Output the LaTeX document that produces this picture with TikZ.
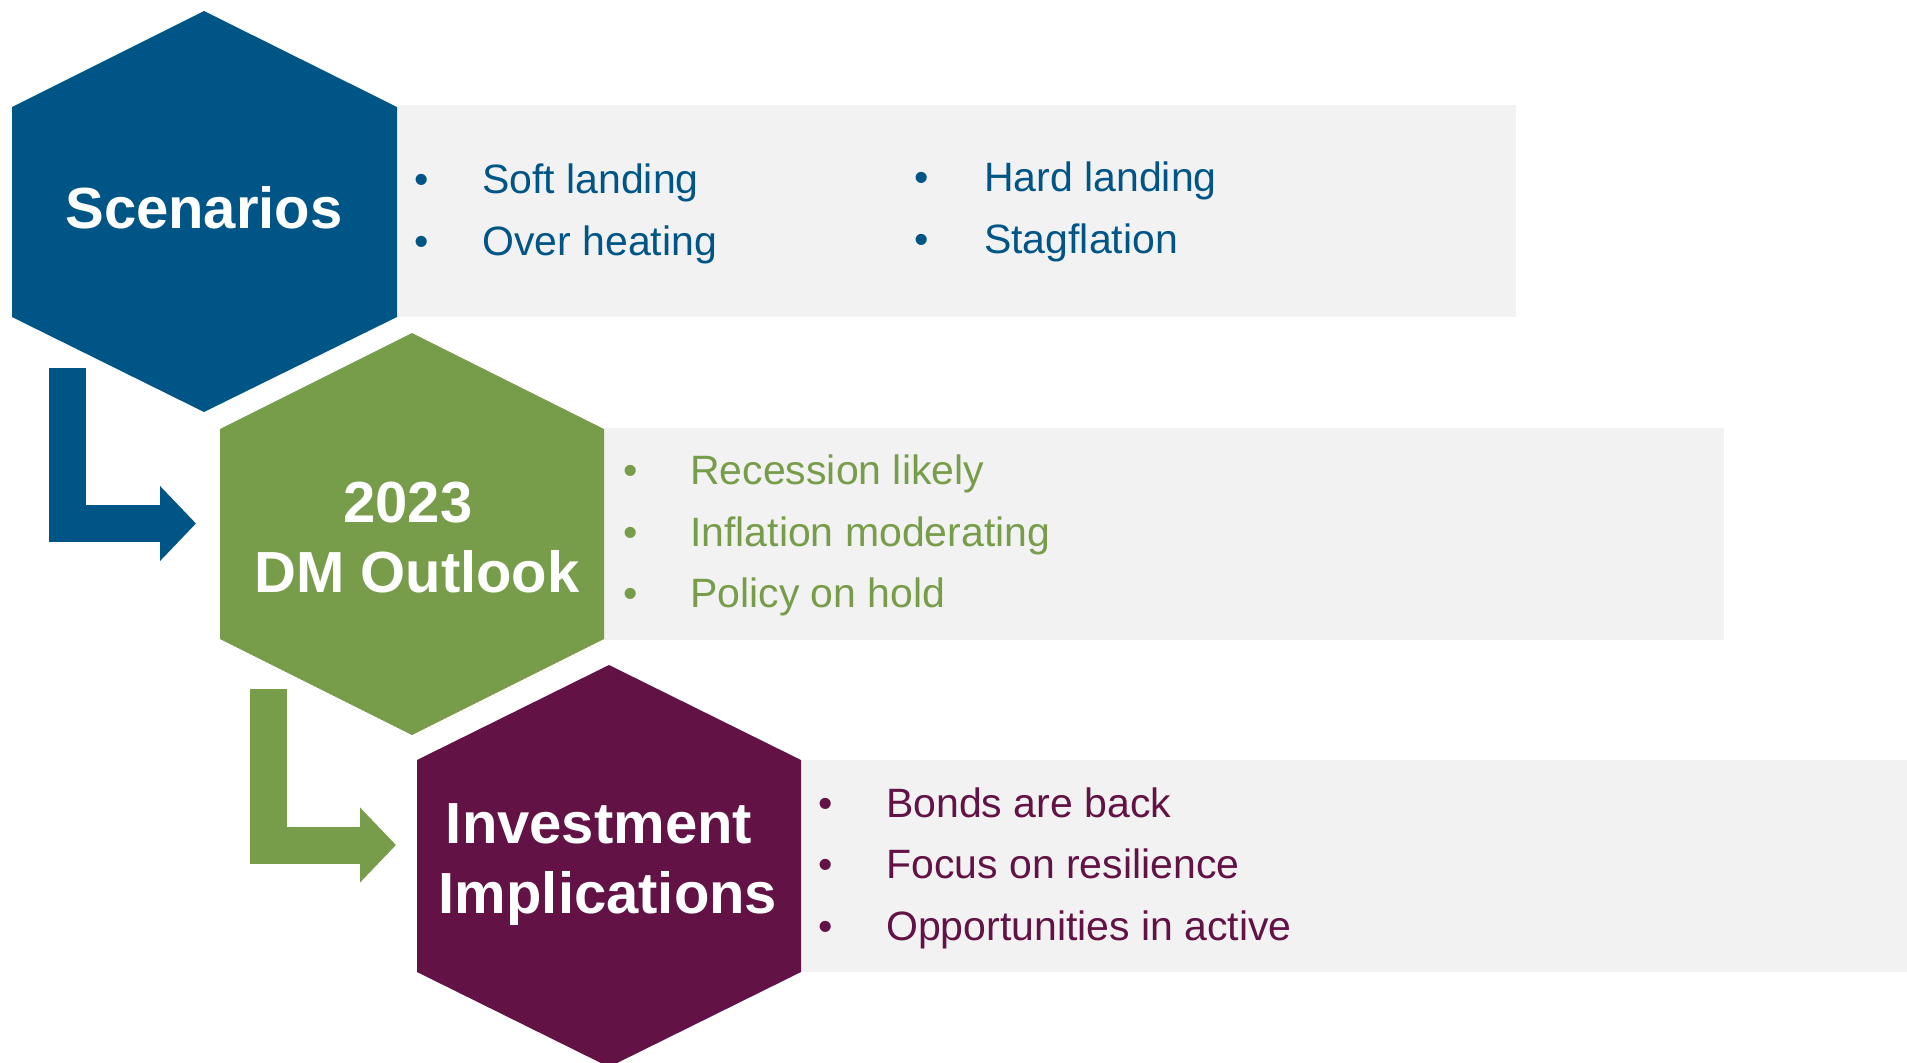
\documentclass[tikz,border=0pt]{standalone}
\usepackage{fontspec}
\setmainfont{Liberation Sans}
\usetikzlibrary{arrows.meta}
\definecolor{cblue}{HTML}{005587}
\definecolor{cgreen}{HTML}{789D4A}
\definecolor{cpurple}{HTML}{621244}
\definecolor{cgray}{HTML}{F2F2F2}
\begin{document}
\begin{tikzpicture}[x=1pt,y=-1pt,
  panel/.style={fill=cgray},
  hexlabel/.style={anchor=base,text=white,inner sep=0pt,font=\bfseries\fontsize{58}{70}\selectfont},
  bul/.style={anchor=base,inner sep=0pt,font=\fontsize{41}{50}\selectfont},
  item/.style={anchor=base west,inner sep=0pt,font=\fontsize{41}{50}\selectfont},
  flowarrow/.style={line width=37pt,line join=miter,line cap=butt,
    -{Triangle[length={36pt 0 0},width={73pt 0 0}]}}
]
\useasboundingbox (0,0) rectangle (1907,1063);
% panels
\fill[panel] (397,105) rectangle (1516,317);
\fill[panel] (604,428) rectangle (1724,640);
\fill[panel] (801,760) rectangle (1907,972);
% hexagons
\fill[cblue] (204,11) -- (397,107) -- (397,317) -- (204,412) -- (12,317) -- (12,107) -- cycle;
\fill[cgreen] (412,333) -- (604,429) -- (604,639) -- (412,735) -- (220,639) -- (220,429) -- cycle;
\fill[cpurple] (609,665) -- (801,760) -- (801,972) -- (609,1067) -- (417,972) -- (417,760) -- cycle;
% hexagon labels
\node[hexlabel] (scen) at (204,228) {Scenarios};
\node[hexlabel] (dma) at (408,522) {2023};
\node[hexlabel] (dmb) at (417,592) {DM Outlook};
\node[hexlabel] (inva) at (599,843) {Investment};
\node[hexlabel] (invb) at (608,913) {Implications};
% arrows
\coordinate (a1s) at (67.5,368);
\coordinate (a1t) at (196,523.5);
\coordinate (a2s) at (268,689);
\coordinate (a2t) at (396,845);
\draw[flowarrow,draw=cblue] (a1s) |- (a1t);
\draw[flowarrow,draw=cgreen] (a2s) |- (a2t);
% scenario items
\begin{scope}[text=cblue]
\node[bul] (b11) at (422,193) {•};
\node[item] (t11) at (482,193) {Soft landing};
\node[bul] (b12) at (422,255) {•};
\node[item] (t12) at (482,255) {Over heating};
\node[bul] (b13) at (922,191) {•};
\node[item] (t13) at (984,191) {Hard landing};
\node[bul] (b14) at (922,253) {•};
\node[item] (t14) at (984,253) {Stagflation};
\end{scope}
\begin{scope}[text=cgreen]
\node[bul] (b21) at (631,484) {•};
\node[item] (t21) at (690,484) {Recession likely};
\node[bul] (b22) at (631,546) {•};
\node[item] (t22) at (690,546) {Inflation moderating};
\node[bul] (b23) at (631,607) {•};
\node[item] (t23) at (690,607) {Policy on hold};
\end{scope}
\begin{scope}[text=cpurple]
\node[bul] (b31) at (826,817) {•};
\node[item] (t31) at (886,817) {Bonds are back};
\node[bul] (b32) at (826,878) {•};
\node[item] (t32) at (886,878) {Focus on resilience};
\node[bul] (b33) at (826,940) {•};
\node[item] (t33) at (886,940) {Opportunities in active};
\end{scope}
\end{tikzpicture}
\end{document}
